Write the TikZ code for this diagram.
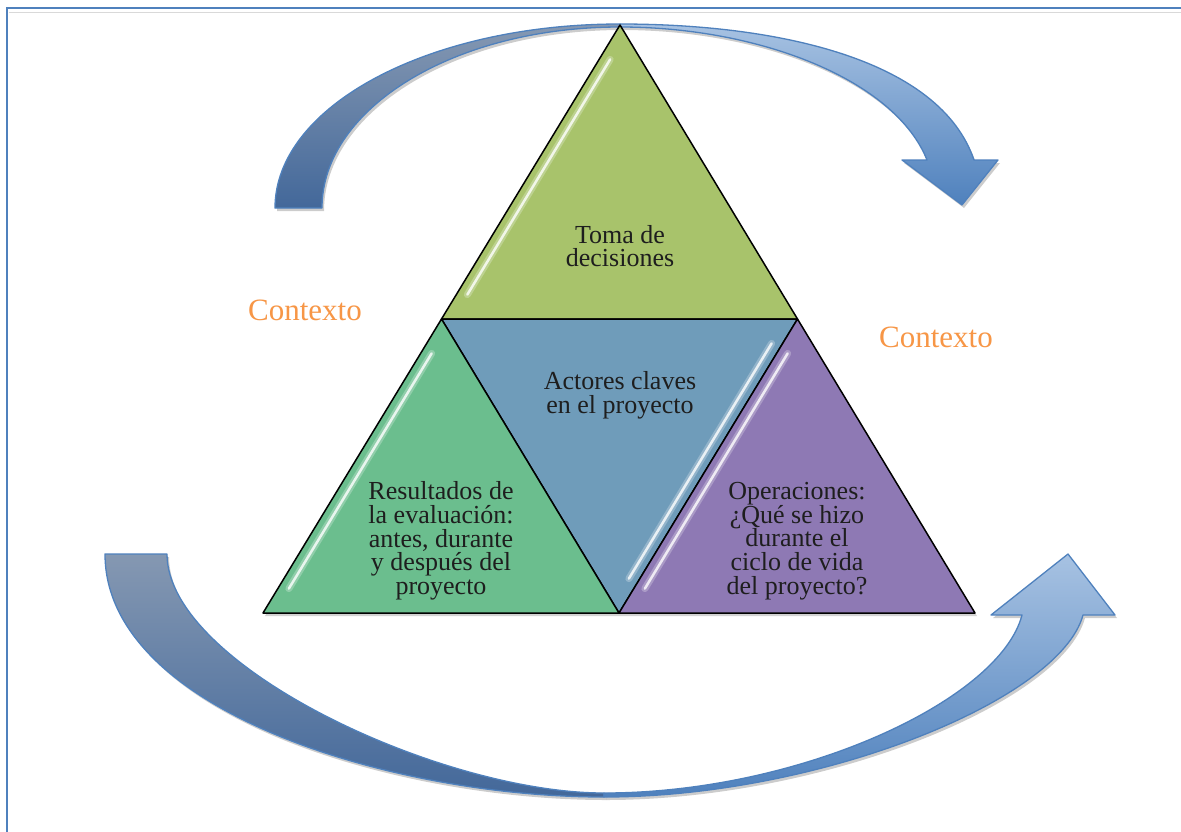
\documentclass[tikz,border=0pt]{standalone}
\usepackage{fontspec}
\setmainfont{Liberation Serif}
\usetikzlibrary{calc,shadows}
\definecolor{arrowline}{HTML}{4F81BD}
\definecolor{darktop}{HTML}{8598B2}
\definecolor{darkbot}{HTML}{43689A}
\definecolor{lighttop}{HTML}{A7C2E2}
\definecolor{lightbot}{HTML}{4F81BD}
\definecolor{tomacol}{HTML}{A8C36B}
\definecolor{actorcol}{HTML}{6F9CBA}
\definecolor{resulcol}{HTML}{6BBE8E}
\definecolor{opercol}{HTML}{8E79B4}
\definecolor{contextcol}{HTML}{F79646}
\definecolor{txtcol}{HTML}{1E1E1E}
\begin{document}
\begin{tikzpicture}[x=1pt,y=-1pt,
  arrowpart/.style={draw=arrowline,line width=1.3pt,line join=round,drop shadow={shadow xshift=2pt,shadow yshift=-3pt,opacity=.2,fill=black}},
  darkpart/.style={arrowpart,top color=darktop,bottom color=darkbot},
  lightpart/.style={arrowpart,top color=lighttop,bottom color=lightbot},
  tri/.style={draw=black,line width=1.5pt,line join=round},
  glow/.style={white,line width=7pt,line cap=round,opacity=.25},
  gloss/.style={white,line width=2.5pt,line cap=round,opacity=.8},
  celltext/.style={font=\fontsize{26}{23.7}\selectfont,text=txtcol,align=center,inner sep=0pt},
  ctx/.style={font=\fontsize{31}{31}\selectfont,text=contextcol,inner sep=0pt}]
	\useasboundingbox (0,0) rectangle (1181,831);
	\fill[white] (0,0) rectangle (1181,831);
	\draw[arrowline,line width=1.2pt] (7,850) -- (7,8) -- (1200,8);
	\draw[black!15,line width=1.5pt] (9,12.5) -- (1200,12.5);
	\draw[darkpart] (275,208) .. controls (275,106) and (429,24) .. (620,24) -- (620,27) .. controls (455,27) and (322,108) .. (322,208) -- cycle;
	\draw[lightpart] (620,24) .. controls (780,24) and (940,60) .. (974,160) -- (998,160) -- (962,205) -- (902,160) -- (927,160) .. controls (895,80) and (760,27) .. (620,27) -- cycle;
	\draw[darkpart] (105,554) .. controls (105,710) and (390,797) .. (604,797) -- (604,793) .. controls (440,793) and (167,665) .. (167,554) -- cycle;
	\draw[lightpart] (604,797) .. controls (820,797) and (1060,700) .. (1083,615) -- (1115,615) -- (1068,554) -- (991,615) -- (1022,615) .. controls (1000,700) and (800,793) .. (604,793) -- cycle;
	\coordinate (apex) at (620,25);
	\coordinate (bl) at (263,613);
	\coordinate (br) at (975,613);
	\coordinate (ml) at ($(apex)!.5!(bl)$);
	\coordinate (mr) at ($(apex)!.5!(br)$);
	\coordinate (mb) at ($(bl)!.5!(br)$);
	\fill[white,drop shadow={shadow xshift=2pt,shadow yshift=-3pt,opacity=.35}] (apex) -- (br) -- (bl) -- cycle;
	\filldraw[tri,fill=tomacol] (apex) -- (mr) -- (ml) -- cycle;
	\filldraw[tri,fill=actorcol] (ml) -- (mr) -- (mb) -- cycle;
	\filldraw[tri,fill=resulcol] (ml) -- (mb) -- (bl) -- cycle;
	\filldraw[tri,fill=opercol] (mr) -- (br) -- (mb) -- cycle;
	\foreach \a/\b/\dx/\dy in {apex/ml/8/5, ml/bl/8/5, mr/mb/8/5, mr/mb/-8/-5}{
	\draw[glow] ($(\a)!.1!(\b)+(\dx,\dy)$) -- ($(\a)!.9!(\b)+(\dx,\dy)$);
	\draw[gloss] ($(\a)!.1!(\b)+(\dx,\dy)$) -- ($(\a)!.9!(\b)+(\dx,\dy)$);
	}
	\node[celltext] (toma) at (620,246) {Toma de\\decisiones};
	\node[celltext] (actores) at (620,395) {Actores claves\\en el proyecto};
	\node[celltext] (resultados) at (441,541) {Resultados de\\la evaluación:\\antes, durante\\y después del\\proyecto};
	\node[celltext] (operaciones) at (797,541) {Operaciones:\\¿Qué se hizo\\durante el\\ciclo de vida\\del proyecto?};
	\node[ctx] (ctxleft) at (305,310) {Contexto};
	\node[ctx] (ctxright) at (936,337) {Contexto};
\end{tikzpicture}
\end{document}
